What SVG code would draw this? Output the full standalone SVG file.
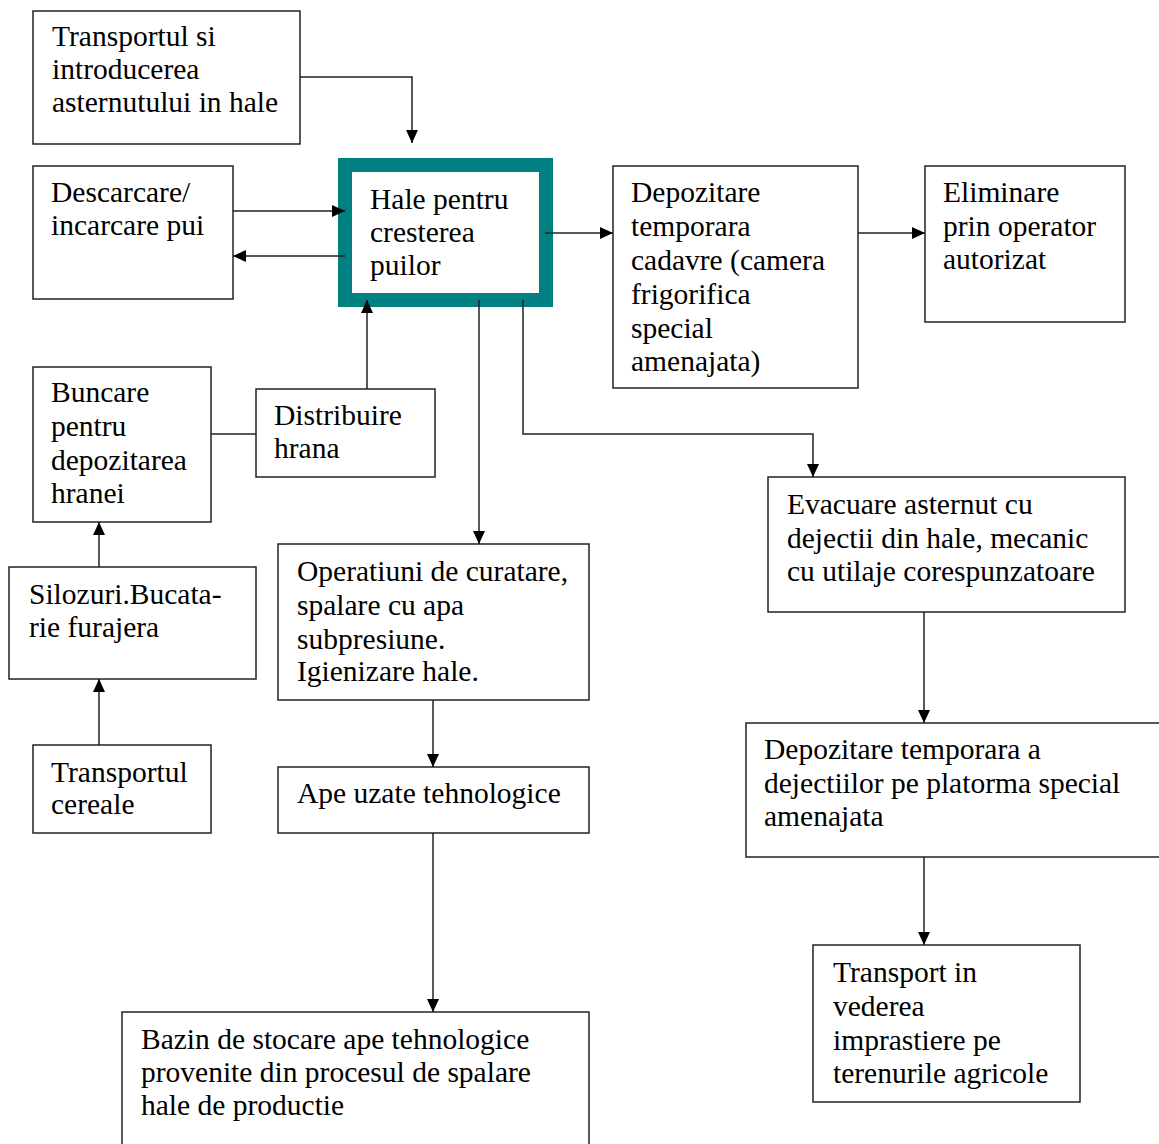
<svg xmlns="http://www.w3.org/2000/svg" width="1159" height="1144" viewBox="0 0 1159 1144">
<style>
.box{fill:#fff;stroke:#222;stroke-width:1.5}
.main{fill:#fff;stroke:#008080;stroke-width:14}
.t{font-family:"Liberation Serif","Times New Roman",serif;font-size:29.5px;fill:#000}
.c{fill:none;stroke:#222;stroke-width:1.5}
</style>
<defs>
<marker id="ah" viewBox="0 0 13 12" refX="13" refY="6" markerWidth="13" markerHeight="12" markerUnits="userSpaceOnUse" orient="auto">
<path d="M0,0 L13,6 L0,12 Z" fill="#000"/>
</marker>
</defs>
<rect width="1159" height="1144" fill="#fff"/>
<g id="n1"><rect class="box" x="33" y="11" width="267" height="133"/>
<text class="t"><tspan x="52" y="46">Transportul si</tspan><tspan x="52" y="79">introducerea</tspan><tspan x="52" y="112">asternutului in hale</tspan></text></g>
<g id="n2"><rect class="box" x="33" y="166" width="200" height="133"/>
<text class="t"><tspan x="51" y="202">Descarcare/</tspan><tspan x="51" y="235">incarcare pui</tspan></text></g>
<g id="n3"><rect class="main" x="345" y="165" width="201" height="135"/>
<text class="t"><tspan x="370" y="209">Hale pentru</tspan><tspan x="370" y="242">cresterea</tspan><tspan x="370" y="275">puilor</tspan></text></g>
<g id="n4"><rect class="box" x="613" y="166" width="245" height="222"/>
<text class="t"><tspan x="631" y="202">Depozitare</tspan><tspan x="631" y="236">temporara</tspan><tspan x="631" y="270">cadavre (camera</tspan><tspan x="631" y="304">frigorifica</tspan><tspan x="631" y="338">special</tspan><tspan x="631" y="371">amenajata)</tspan></text></g>
<g id="n5"><rect class="box" x="925" y="166" width="200" height="156"/>
<text class="t"><tspan x="943" y="202">Eliminare</tspan><tspan x="943" y="236">prin operator</tspan><tspan x="943" y="269">autorizat</tspan></text></g>
<g id="n6"><rect class="box" x="33" y="367" width="178" height="155"/>
<text class="t"><tspan x="51" y="402">Buncare</tspan><tspan x="51" y="436">pentru</tspan><tspan x="51" y="470">depozitarea</tspan><tspan x="51" y="503">hranei</tspan></text></g>
<g id="n7"><rect class="box" x="256" y="389" width="179" height="88"/>
<text class="t"><tspan x="274" y="425">Distribuire</tspan><tspan x="274" y="458">hrana</tspan></text></g>
<g id="n8"><rect class="box" x="9" y="567" width="247" height="112"/>
<text class="t"><tspan x="29" y="604">Silozuri.Bucata-</tspan><tspan x="29" y="637">rie furajera</tspan></text></g>
<g id="n9"><rect class="box" x="33" y="745" width="178" height="88"/>
<text class="t"><tspan x="51" y="782">Transportul</tspan><tspan x="51" y="814">cereale</tspan></text></g>
<g id="n10"><rect class="box" x="278" y="544" width="311" height="156"/>
<text class="t"><tspan x="297" y="581">Operatiuni de curatare,</tspan><tspan x="297" y="615">spalare cu apa</tspan><tspan x="297" y="649">subpresiune.</tspan><tspan x="297" y="681">Igienizare hale.</tspan></text></g>
<g id="n11"><rect class="box" x="278" y="767" width="311" height="66"/>
<text class="t"><tspan x="297" y="803">Ape uzate tehnologice</tspan></text></g>
<g id="n12"><rect class="box" x="122" y="1012" width="467" height="150"/>
<text class="t"><tspan x="141" y="1049">Bazin de stocare ape tehnologice</tspan><tspan x="141" y="1082">provenite din procesul de spalare</tspan><tspan x="141" y="1115">hale de productie</tspan></text></g>
<g id="n13"><rect class="box" x="768" y="477" width="357" height="135"/>
<text class="t"><tspan x="787" y="514">Evacuare asternut cu</tspan><tspan x="787" y="548">dejectii din hale, mecanic</tspan><tspan x="787" y="581">cu utilaje corespunzatoare</tspan></text></g>
<g id="n14"><rect class="box" x="746" y="723" width="430" height="134"/>
<text class="t"><tspan x="764" y="759">Depozitare temporara a</tspan><tspan x="764" y="793">dejectiilor pe platorma special</tspan><tspan x="764" y="826">amenajata</tspan></text></g>
<g id="n15"><rect class="box" x="813" y="945" width="267" height="157"/>
<text class="t"><tspan x="833" y="982">Transport in</tspan><tspan x="833" y="1016">vederea</tspan><tspan x="833" y="1050">imprastiere pe</tspan><tspan x="833" y="1083">terenurile agricole</tspan></text></g>
<g id="connectors">
<polyline class="c" points="300,77 412,77 412,143" marker-end="url(#ah)"/>
<line class="c" x1="233" y1="211" x2="345" y2="211" marker-end="url(#ah)"/>
<line class="c" x1="345" y1="256" x2="233" y2="256" marker-end="url(#ah)"/>
<line class="c" x1="545" y1="233" x2="613" y2="233" marker-end="url(#ah)"/>
<line class="c" x1="858" y1="233" x2="925" y2="233" marker-end="url(#ah)"/>
<line class="c" x1="367" y1="389" x2="367" y2="300" marker-end="url(#ah)"/>
<line class="c" x1="211" y1="434" x2="256" y2="434"/>
<line class="c" x1="99" y1="567" x2="99" y2="522" marker-end="url(#ah)"/>
<line class="c" x1="99" y1="745" x2="99" y2="679" marker-end="url(#ah)"/>
<line class="c" x1="479" y1="300" x2="479" y2="544" marker-end="url(#ah)"/>
<polyline class="c" points="523,300 523,434 813,434 813,477" marker-end="url(#ah)"/>
<line class="c" x1="433" y1="700" x2="433" y2="767" marker-end="url(#ah)"/>
<line class="c" x1="433" y1="833" x2="433" y2="1012" marker-end="url(#ah)"/>
<line class="c" x1="924" y1="612" x2="924" y2="723" marker-end="url(#ah)"/>
<line class="c" x1="924" y1="857" x2="924" y2="945" marker-end="url(#ah)"/>
</g>
</svg>
